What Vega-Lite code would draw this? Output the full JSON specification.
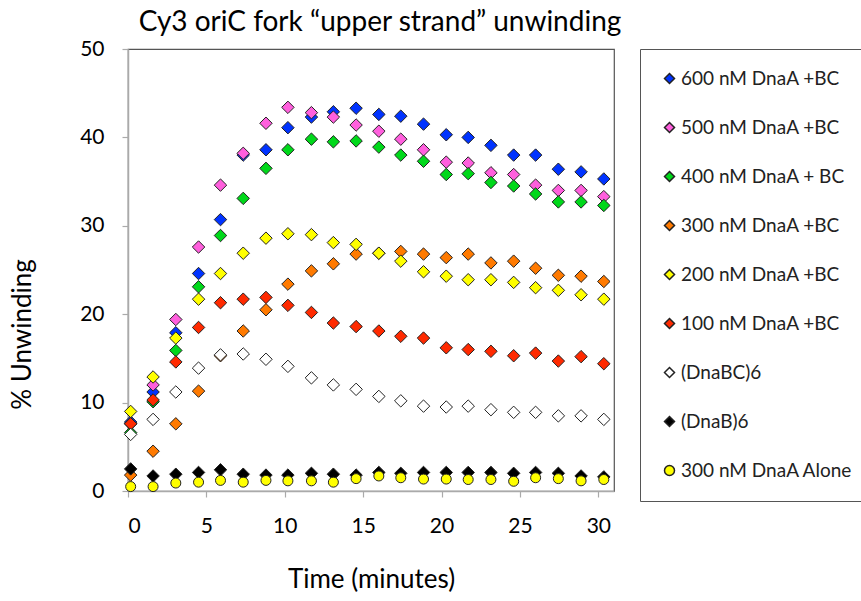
{
  "$schema": "https://vega.github.io/schema/vega-lite/v6.json",
  "autosize": {"type": "none"},
  "padding": {"left": 128, "top": 49, "right": 247, "bottom": 110},
  "width": 486,
  "height": 442,
  "title": {"text": "Cy3 oriC fork “upper strand” unwinding", "fontSize": 28, "font": "Lato", "fontWeight": "normal", "color": "#000", "anchor": "middle", "offset": 1, "dx": 9},
  "config": {
    "font": "Lato",
    "view": {"stroke": "#555", "strokeWidth": 1.2},
    "axis": {"grid": false, "labelFontSize": 21, "labelColor": "#000", "labelFont": "Lato", "titleFont": "Lato", "titleFontSize": 26, "titleFontWeight": "normal", "titleColor": "#000", "domainColor": "#aaa", "domainWidth": 1.5, "tickColor": "#aaa", "tickSize": 6, "tickWidth": 1.2}
  },
  "data": {"values": [
    {"series": "600 nM DnaA +BC", "time": 0.17, "pct": 7.8},
    {"series": "600 nM DnaA +BC", "time": 1.6, "pct": 11.2},
    {"series": "600 nM DnaA +BC", "time": 3.05, "pct": 17.9},
    {"series": "600 nM DnaA +BC", "time": 4.5, "pct": 24.6},
    {"series": "600 nM DnaA +BC", "time": 5.9, "pct": 30.7},
    {"series": "600 nM DnaA +BC", "time": 7.35, "pct": 38.0},
    {"series": "600 nM DnaA +BC", "time": 8.8, "pct": 38.6},
    {"series": "600 nM DnaA +BC", "time": 10.2, "pct": 41.1},
    {"series": "600 nM DnaA +BC", "time": 11.7, "pct": 42.3},
    {"series": "600 nM DnaA +BC", "time": 13.1, "pct": 42.9},
    {"series": "600 nM DnaA +BC", "time": 14.55, "pct": 43.3},
    {"series": "600 nM DnaA +BC", "time": 16.0, "pct": 42.6},
    {"series": "600 nM DnaA +BC", "time": 17.4, "pct": 42.4},
    {"series": "600 nM DnaA +BC", "time": 18.85, "pct": 41.5},
    {"series": "600 nM DnaA +BC", "time": 20.3, "pct": 40.3},
    {"series": "600 nM DnaA +BC", "time": 21.7, "pct": 40.0},
    {"series": "600 nM DnaA +BC", "time": 23.15, "pct": 39.1},
    {"series": "600 nM DnaA +BC", "time": 24.6, "pct": 38.0},
    {"series": "600 nM DnaA +BC", "time": 26.0, "pct": 38.0},
    {"series": "600 nM DnaA +BC", "time": 27.45, "pct": 36.4},
    {"series": "600 nM DnaA +BC", "time": 28.9, "pct": 36.1},
    {"series": "600 nM DnaA +BC", "time": 30.35, "pct": 35.3},
    {"series": "500 nM DnaA +BC", "time": 0.17, "pct": 7.6},
    {"series": "500 nM DnaA +BC", "time": 1.6, "pct": 12.0},
    {"series": "500 nM DnaA +BC", "time": 3.05, "pct": 19.4},
    {"series": "500 nM DnaA +BC", "time": 4.5, "pct": 27.6},
    {"series": "500 nM DnaA +BC", "time": 5.9, "pct": 34.6},
    {"series": "500 nM DnaA +BC", "time": 7.35, "pct": 38.2},
    {"series": "500 nM DnaA +BC", "time": 8.8, "pct": 41.6},
    {"series": "500 nM DnaA +BC", "time": 10.2, "pct": 43.4},
    {"series": "500 nM DnaA +BC", "time": 11.7, "pct": 42.8},
    {"series": "500 nM DnaA +BC", "time": 13.1, "pct": 42.3},
    {"series": "500 nM DnaA +BC", "time": 14.55, "pct": 41.4},
    {"series": "500 nM DnaA +BC", "time": 16.0, "pct": 40.7},
    {"series": "500 nM DnaA +BC", "time": 17.4, "pct": 39.8},
    {"series": "500 nM DnaA +BC", "time": 18.85, "pct": 38.6},
    {"series": "500 nM DnaA +BC", "time": 20.3, "pct": 37.2},
    {"series": "500 nM DnaA +BC", "time": 21.7, "pct": 37.1},
    {"series": "500 nM DnaA +BC", "time": 23.15, "pct": 36.0},
    {"series": "500 nM DnaA +BC", "time": 24.6, "pct": 35.8},
    {"series": "500 nM DnaA +BC", "time": 26.0, "pct": 34.6},
    {"series": "500 nM DnaA +BC", "time": 27.45, "pct": 34.0},
    {"series": "500 nM DnaA +BC", "time": 28.9, "pct": 34.0},
    {"series": "500 nM DnaA +BC", "time": 30.35, "pct": 33.3},
    {"series": "400 nM DnaA + BC", "time": 0.17, "pct": 6.6},
    {"series": "400 nM DnaA + BC", "time": 1.6, "pct": 10.1},
    {"series": "400 nM DnaA + BC", "time": 3.05, "pct": 15.9},
    {"series": "400 nM DnaA + BC", "time": 4.5, "pct": 23.1},
    {"series": "400 nM DnaA + BC", "time": 5.9, "pct": 28.9},
    {"series": "400 nM DnaA + BC", "time": 7.35, "pct": 33.1},
    {"series": "400 nM DnaA + BC", "time": 8.8, "pct": 36.5},
    {"series": "400 nM DnaA + BC", "time": 10.2, "pct": 38.6},
    {"series": "400 nM DnaA + BC", "time": 11.7, "pct": 39.8},
    {"series": "400 nM DnaA + BC", "time": 13.1, "pct": 39.5},
    {"series": "400 nM DnaA + BC", "time": 14.55, "pct": 39.6},
    {"series": "400 nM DnaA + BC", "time": 16.0, "pct": 38.9},
    {"series": "400 nM DnaA + BC", "time": 17.4, "pct": 38.0},
    {"series": "400 nM DnaA + BC", "time": 18.85, "pct": 37.3},
    {"series": "400 nM DnaA + BC", "time": 20.3, "pct": 35.8},
    {"series": "400 nM DnaA + BC", "time": 21.7, "pct": 35.9},
    {"series": "400 nM DnaA + BC", "time": 23.15, "pct": 34.9},
    {"series": "400 nM DnaA + BC", "time": 24.6, "pct": 34.5},
    {"series": "400 nM DnaA + BC", "time": 26.0, "pct": 33.6},
    {"series": "400 nM DnaA + BC", "time": 27.45, "pct": 32.7},
    {"series": "400 nM DnaA + BC", "time": 28.9, "pct": 32.7},
    {"series": "400 nM DnaA + BC", "time": 30.35, "pct": 32.3},
    {"series": "300 nM DnaA +BC", "time": 0.17, "pct": 1.8},
    {"series": "300 nM DnaA +BC", "time": 1.6, "pct": 4.5},
    {"series": "300 nM DnaA +BC", "time": 3.05, "pct": 7.6},
    {"series": "300 nM DnaA +BC", "time": 4.5, "pct": 11.3},
    {"series": "300 nM DnaA +BC", "time": 5.9, "pct": 15.3},
    {"series": "300 nM DnaA +BC", "time": 7.35, "pct": 18.1},
    {"series": "300 nM DnaA +BC", "time": 8.8, "pct": 20.5},
    {"series": "300 nM DnaA +BC", "time": 10.2, "pct": 23.4},
    {"series": "300 nM DnaA +BC", "time": 11.7, "pct": 24.9},
    {"series": "300 nM DnaA +BC", "time": 13.1, "pct": 25.7},
    {"series": "300 nM DnaA +BC", "time": 14.55, "pct": 26.8},
    {"series": "300 nM DnaA +BC", "time": 16.0, "pct": 26.9},
    {"series": "300 nM DnaA +BC", "time": 17.4, "pct": 27.1},
    {"series": "300 nM DnaA +BC", "time": 18.85, "pct": 26.8},
    {"series": "300 nM DnaA +BC", "time": 20.3, "pct": 26.4},
    {"series": "300 nM DnaA +BC", "time": 21.7, "pct": 26.8},
    {"series": "300 nM DnaA +BC", "time": 23.15, "pct": 25.8},
    {"series": "300 nM DnaA +BC", "time": 24.6, "pct": 26.0},
    {"series": "300 nM DnaA +BC", "time": 26.0, "pct": 25.2},
    {"series": "300 nM DnaA +BC", "time": 27.45, "pct": 24.4},
    {"series": "300 nM DnaA +BC", "time": 28.9, "pct": 24.3},
    {"series": "300 nM DnaA +BC", "time": 30.35, "pct": 23.7},
    {"series": "200 nM DnaA +BC", "time": 0.17, "pct": 9.0},
    {"series": "200 nM DnaA +BC", "time": 1.6, "pct": 12.9},
    {"series": "200 nM DnaA +BC", "time": 3.05, "pct": 17.3},
    {"series": "200 nM DnaA +BC", "time": 4.5, "pct": 21.7},
    {"series": "200 nM DnaA +BC", "time": 5.9, "pct": 24.6},
    {"series": "200 nM DnaA +BC", "time": 7.35, "pct": 26.9},
    {"series": "200 nM DnaA +BC", "time": 8.8, "pct": 28.6},
    {"series": "200 nM DnaA +BC", "time": 10.2, "pct": 29.1},
    {"series": "200 nM DnaA +BC", "time": 11.7, "pct": 29.0},
    {"series": "200 nM DnaA +BC", "time": 13.1, "pct": 28.1},
    {"series": "200 nM DnaA +BC", "time": 14.55, "pct": 27.9},
    {"series": "200 nM DnaA +BC", "time": 16.0, "pct": 26.9},
    {"series": "200 nM DnaA +BC", "time": 17.4, "pct": 26.0},
    {"series": "200 nM DnaA +BC", "time": 18.85, "pct": 24.8},
    {"series": "200 nM DnaA +BC", "time": 20.3, "pct": 24.3},
    {"series": "200 nM DnaA +BC", "time": 21.7, "pct": 23.9},
    {"series": "200 nM DnaA +BC", "time": 23.15, "pct": 23.9},
    {"series": "200 nM DnaA +BC", "time": 24.6, "pct": 23.6},
    {"series": "200 nM DnaA +BC", "time": 26.0, "pct": 23.0},
    {"series": "200 nM DnaA +BC", "time": 27.45, "pct": 22.7},
    {"series": "200 nM DnaA +BC", "time": 28.9, "pct": 22.2},
    {"series": "200 nM DnaA +BC", "time": 30.35, "pct": 21.7},
    {"series": "100 nM DnaA +BC", "time": 0.17, "pct": 7.6},
    {"series": "100 nM DnaA +BC", "time": 1.6, "pct": 10.3},
    {"series": "100 nM DnaA +BC", "time": 3.05, "pct": 14.6},
    {"series": "100 nM DnaA +BC", "time": 4.5, "pct": 18.5},
    {"series": "100 nM DnaA +BC", "time": 5.9, "pct": 21.3},
    {"series": "100 nM DnaA +BC", "time": 7.35, "pct": 21.7},
    {"series": "100 nM DnaA +BC", "time": 8.8, "pct": 21.9},
    {"series": "100 nM DnaA +BC", "time": 10.2, "pct": 21.0},
    {"series": "100 nM DnaA +BC", "time": 11.7, "pct": 20.2},
    {"series": "100 nM DnaA +BC", "time": 13.1, "pct": 19.0},
    {"series": "100 nM DnaA +BC", "time": 14.55, "pct": 18.6},
    {"series": "100 nM DnaA +BC", "time": 16.0, "pct": 18.1},
    {"series": "100 nM DnaA +BC", "time": 17.4, "pct": 17.5},
    {"series": "100 nM DnaA +BC", "time": 18.85, "pct": 17.3},
    {"series": "100 nM DnaA +BC", "time": 20.3, "pct": 16.2},
    {"series": "100 nM DnaA +BC", "time": 21.7, "pct": 16.0},
    {"series": "100 nM DnaA +BC", "time": 23.15, "pct": 15.8},
    {"series": "100 nM DnaA +BC", "time": 24.6, "pct": 15.3},
    {"series": "100 nM DnaA +BC", "time": 26.0, "pct": 15.6},
    {"series": "100 nM DnaA +BC", "time": 27.45, "pct": 14.7},
    {"series": "100 nM DnaA +BC", "time": 28.9, "pct": 15.2},
    {"series": "100 nM DnaA +BC", "time": 30.35, "pct": 14.4},
    {"series": "(DnaBC)6", "time": 0.17, "pct": 6.4},
    {"series": "(DnaBC)6", "time": 1.6, "pct": 8.1},
    {"series": "(DnaBC)6", "time": 3.05, "pct": 11.2},
    {"series": "(DnaBC)6", "time": 4.5, "pct": 13.9},
    {"series": "(DnaBC)6", "time": 5.9, "pct": 15.4},
    {"series": "(DnaBC)6", "time": 7.35, "pct": 15.5},
    {"series": "(DnaBC)6", "time": 8.8, "pct": 14.9},
    {"series": "(DnaBC)6", "time": 10.2, "pct": 14.1},
    {"series": "(DnaBC)6", "time": 11.7, "pct": 12.8},
    {"series": "(DnaBC)6", "time": 13.1, "pct": 12.0},
    {"series": "(DnaBC)6", "time": 14.55, "pct": 11.5},
    {"series": "(DnaBC)6", "time": 16.0, "pct": 10.7},
    {"series": "(DnaBC)6", "time": 17.4, "pct": 10.2},
    {"series": "(DnaBC)6", "time": 18.85, "pct": 9.6},
    {"series": "(DnaBC)6", "time": 20.3, "pct": 9.5},
    {"series": "(DnaBC)6", "time": 21.7, "pct": 9.6},
    {"series": "(DnaBC)6", "time": 23.15, "pct": 9.2},
    {"series": "(DnaBC)6", "time": 24.6, "pct": 8.9},
    {"series": "(DnaBC)6", "time": 26.0, "pct": 8.9},
    {"series": "(DnaBC)6", "time": 27.45, "pct": 8.5},
    {"series": "(DnaBC)6", "time": 28.9, "pct": 8.5},
    {"series": "(DnaBC)6", "time": 30.35, "pct": 8.1},
    {"series": "(DnaB)6", "time": 0.17, "pct": 2.5},
    {"series": "(DnaB)6", "time": 1.6, "pct": 1.7},
    {"series": "(DnaB)6", "time": 3.05, "pct": 1.9},
    {"series": "(DnaB)6", "time": 4.5, "pct": 2.1},
    {"series": "(DnaB)6", "time": 5.9, "pct": 2.4},
    {"series": "(DnaB)6", "time": 7.35, "pct": 1.9},
    {"series": "(DnaB)6", "time": 8.8, "pct": 1.8},
    {"series": "(DnaB)6", "time": 10.2, "pct": 1.8},
    {"series": "(DnaB)6", "time": 11.7, "pct": 2.0},
    {"series": "(DnaB)6", "time": 13.1, "pct": 1.9},
    {"series": "(DnaB)6", "time": 14.55, "pct": 1.8},
    {"series": "(DnaB)6", "time": 16.0, "pct": 2.1},
    {"series": "(DnaB)6", "time": 17.4, "pct": 2.0},
    {"series": "(DnaB)6", "time": 18.85, "pct": 2.1},
    {"series": "(DnaB)6", "time": 20.3, "pct": 2.1},
    {"series": "(DnaB)6", "time": 21.7, "pct": 2.1},
    {"series": "(DnaB)6", "time": 23.15, "pct": 2.1},
    {"series": "(DnaB)6", "time": 24.6, "pct": 2.0},
    {"series": "(DnaB)6", "time": 26.0, "pct": 2.1},
    {"series": "(DnaB)6", "time": 27.45, "pct": 2.0},
    {"series": "(DnaB)6", "time": 28.9, "pct": 1.7},
    {"series": "(DnaB)6", "time": 30.35, "pct": 1.6},
    {"series": "300 nM DnaA Alone", "time": 0.17, "pct": 0.5},
    {"series": "300 nM DnaA Alone", "time": 1.6, "pct": 0.5},
    {"series": "300 nM DnaA Alone", "time": 3.05, "pct": 0.9},
    {"series": "300 nM DnaA Alone", "time": 4.5, "pct": 1.0},
    {"series": "300 nM DnaA Alone", "time": 5.9, "pct": 1.2},
    {"series": "300 nM DnaA Alone", "time": 7.35, "pct": 1.0},
    {"series": "300 nM DnaA Alone", "time": 8.8, "pct": 1.2},
    {"series": "300 nM DnaA Alone", "time": 10.2, "pct": 1.15},
    {"series": "300 nM DnaA Alone", "time": 11.7, "pct": 1.15},
    {"series": "300 nM DnaA Alone", "time": 13.1, "pct": 1.0},
    {"series": "300 nM DnaA Alone", "time": 14.55, "pct": 1.4},
    {"series": "300 nM DnaA Alone", "time": 16.0, "pct": 1.7},
    {"series": "300 nM DnaA Alone", "time": 17.4, "pct": 1.5},
    {"series": "300 nM DnaA Alone", "time": 18.85, "pct": 1.35},
    {"series": "300 nM DnaA Alone", "time": 20.3, "pct": 1.35},
    {"series": "300 nM DnaA Alone", "time": 21.7, "pct": 1.3},
    {"series": "300 nM DnaA Alone", "time": 23.15, "pct": 1.3},
    {"series": "300 nM DnaA Alone", "time": 24.6, "pct": 1.1},
    {"series": "300 nM DnaA Alone", "time": 26.0, "pct": 1.5},
    {"series": "300 nM DnaA Alone", "time": 27.45, "pct": 1.4},
    {"series": "300 nM DnaA Alone", "time": 28.9, "pct": 1.15},
    {"series": "300 nM DnaA Alone", "time": 30.35, "pct": 1.3}
  ]},
  "encoding": {
    "x": {"field": "time", "type": "quantitative", "scale": {"domain": [0, 31], "nice": false}, "axis": {"values": [0, 5, 10, 15, 20, 25, 30], "title": "Time (minutes)", "titlePadding": 30, "labelPadding": 18}},
    "y": {"field": "pct", "type": "quantitative", "scale": {"domain": [0, 50], "nice": false}, "axis": {"values": [0, 10, 20, 30, 40, 50], "title": "% Unwinding", "labelPadding": 18, "titleX": -106, "titleY": 285, "titleAngle": -90, "titleBaseline": "middle", "titleAlign": "center"}},
    "fill": {"field": "series", "type": "nominal", "sort": null,
      "scale": {"domain": ["600 nM DnaA +BC", "500 nM DnaA +BC", "400 nM DnaA + BC", "300 nM DnaA +BC", "200 nM DnaA +BC", "100 nM DnaA +BC", "(DnaBC)6", "(DnaB)6", "300 nM DnaA Alone"],
        "range": ["#0033ff", "#ff5fdd", "#00d81a", "#ff7a00", "#ffff00", "#ff2a00", "#ffffff", "#000000", "#ffff00"]},
      "legend": {"title": null, "orient": "right", "offset": 26, "padding": 20, "strokeColor": "#555", "labelFontSize": 19, "labelFont": "Lato", "labelColor": "#222", "rowPadding": 29, "symbolSize": 100, "labelOffset": 2, "labelLimit": 300,
        "encode": {"symbols": {"update": {"stroke": {"value": "#222"}, "strokeWidth": {"value": 1}, "size": {"value": 100}, "opacity": {"value": 1}}}}}},
    "shape": {"field": "series", "type": "nominal", "sort": null,
      "scale": {"domain": ["600 nM DnaA +BC", "500 nM DnaA +BC", "400 nM DnaA + BC", "300 nM DnaA +BC", "200 nM DnaA +BC", "100 nM DnaA +BC", "(DnaBC)6", "(DnaB)6", "300 nM DnaA Alone"],
        "range": ["diamond", "diamond", "diamond", "diamond", "diamond", "diamond", "diamond", "diamond", "circle"]},
      "legend": {"title": null, "orient": "right", "offset": 26, "padding": 20, "strokeColor": "#555", "labelFontSize": 19, "labelFont": "Lato", "labelColor": "#222", "rowPadding": 29, "symbolSize": 100, "labelOffset": 2, "labelLimit": 300,
        "encode": {"symbols": {"update": {"stroke": {"value": "#222"}, "strokeWidth": {"value": 1}, "size": {"value": 100}, "opacity": {"value": 1}}}}}}
  },
  "layer": [
    {"transform": [{"filter": "datum.series !== '300 nM DnaA Alone'"}],
     "mark": {"type": "point", "filled": true, "stroke": "#222", "strokeWidth": 1, "opacity": 1, "size": 155}},
    {"transform": [{"filter": "datum.series === '300 nM DnaA Alone'"}],
     "mark": {"type": "point", "filled": true, "stroke": "#222", "strokeWidth": 1, "opacity": 1, "size": 100}}
  ]
}
